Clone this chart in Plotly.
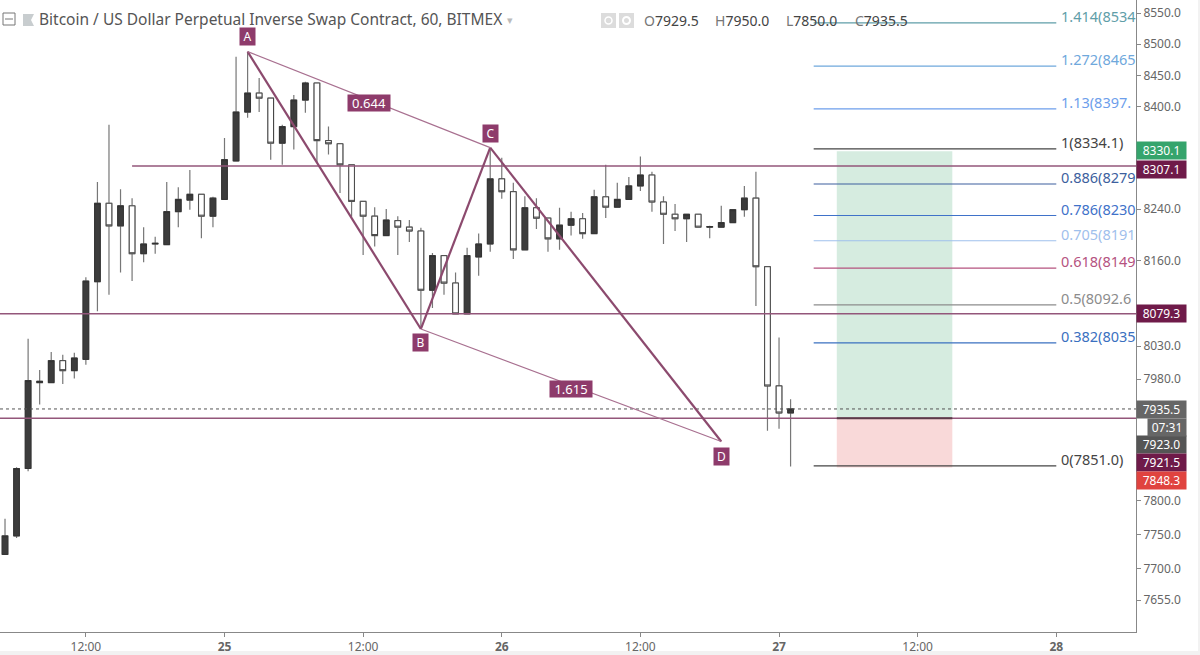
import math

import pandas as pd
import plotly.graph_objects as go

# hourly candles, first one is 2018-07-24 05:00
first_candle = "2018-07-24 05:00"
opens = [7721, 7748, 7847, 7975, 7975, 8008, 7993, 8010, 8128, 8249, 8214, 8245, 8171, 8186, 8185, 8236, 8254, 8263, 8229,
         8255, 8315, 8392, 8422, 8414, 8343, 8369, 8411, 8438, 8347, 8342, 8309, 8252, 8229, 8199, 8222, 8212, 8206, 8115,
         8168, 8126, 8079, 8166, 8186, 8287, 8267, 8177, 8242, 8226, 8194, 8215, 8225, 8202, 8259, 8243, 8255, 8276, 8293,
         8251, 8232, 8225, 8232, 8212, 8212, 8219, 8239, 8257, 8151, 7970, 7929.5]
highs = [7773, 7849, 8041, 7994, 8021, 8017, 8020, 8135, 8282, 8372, 8271, 8257, 8212, 8197, 8282, 8274, 8301, 8264, 8259,
         8351, 8480, 8488, 8446, 8414, 8372, 8419, 8440, 8438, 8369, 8342, 8309, 8252, 8243, 8240, 8229, 8223, 8211, 8172,
         8168, 8142, 8180, 8202, 8333, 8320, 8281, 8260, 8257, 8226, 8242, 8236, 8234, 8270, 8309, 8281, 8290, 8322, 8298,
         8260, 8248, 8232, 8232, 8214, 8245, 8239, 8276, 8298, 8151, 8043, 7950]
lows = [7720, 7745, 7843, 7942, 7974, 7973, 7981, 8002, 8083, 8108, 8142, 8129, 8158, 8171, 8185, 8212, 8239, 8195, 8212,
        8255, 8315, 8383, 8392, 8317, 8309, 8333, 8391, 8312, 8325, 8265, 8228, 8169, 8182, 8199, 8169, 8189, 8058, 8088,
        8108, 8079, 8079, 8137, 8174, 8256, 8163, 8177, 8209, 8174, 8177, 8199, 8194, 8202, 8226, 8243, 8255, 8268, 8236,
        8186, 8206, 8189, 8212, 8195, 8212, 8219, 8228, 8091, 7903, 7906, 7850]
closes = [7748, 7847, 7978, 7977, 8008, 7993, 8012, 8129, 8249, 8214, 8245, 8171, 8186, 8187, 8236, 8255, 8263, 8229, 8257,
          8317, 8392, 8422, 8414, 8343, 8369, 8411, 8438, 8347, 8342, 8309, 8252, 8229, 8199, 8223, 8212, 8206, 8115, 8168,
          8126, 8079, 8168, 8186, 8287, 8267, 8177, 8242, 8226, 8194, 8215, 8225, 8202, 8259, 8243, 8255, 8276, 8293, 8251,
          8232, 8225, 8232, 8212, 8213, 8219, 8239, 8257, 8151, 7970, 7929.5, 7935.5]

# harmonic pattern
pattern_names = ["A", "B", "C", "D"]
pattern_times = ["2018-07-25 02:00", "2018-07-25 17:00", "2018-07-25 23:00", "2018-07-26 19:00"]
pattern_prices = [8488, 8056, 8336, 7887]
ratio_labels = ["0.644", "1.615"]
ratio_times = ["2018-07-25 12:30", "2018-07-26 06:00"]
ratio_prices = [8407, 7965.5]

# horizontal levels
level_prices = [8307.1, 8079.3, 7921.5]
level_starts = ["2018-07-24 16:00", None, None]
last_price = 7935.5

# fibonacci
fib_labels = ["1.414(8534", "1.272(8465", "1.13(8397.", "1(8334.1)", "0.886(8279", "0.786(8230", "0.705(8191", "0.618(8149",
              "0.5(8092.6", "0.382(8035", "0(7851.0)"]
fib_prices = [8534, 8465, 8397, 8334.1, 8279, 8230, 8191, 8149, 8092.6, 8035, 7851]
fib_colors = ["#5f9ea8", "#6fa8dc", "#6d9eeb", "#444444", "#3d5f9e", "#3f72c9", "#9fc0ec", "#b5537f", "#8c8c8c", "#3a70c0", "#444444"]
fib_start = "2018-07-27 03:00"
fib_end = "2018-07-28 00:00"

# long position
position_start = "2018-07-27 05:00"
position_end = "2018-07-27 15:00"
position_target = 8330.1
position_entry = 7921.5
position_stop = 7848.3

# axes
x_range = ["2018-07-24 04:34", "2018-07-28 06:54"]
y_range = [7609, 8571]
x_ticks = ["2018-07-24 12:00", "2018-07-25 00:00", "2018-07-25 12:00", "2018-07-26 00:00", "2018-07-26 12:00",
           "2018-07-27 00:00", "2018-07-27 12:00", "2018-07-28 00:00"]
x_tick_labels = ["12:00", "<b>25</b>", "12:00", "<b>26</b>", "12:00", "<b>27</b>", "12:00", "<b>28</b>"]
y_ticks = [8550, 8500, 8450, 8400, 8240, 8160, 8030, 7980, 7800, 7750, 7700, 7655]

# price tags on the right scale
tag_texts = ["8330.1", "8307.1", "8079.3", "7935.5", "7923.0", "7921.5", "7848.3"]
tag_rows = [151, 169, 313, 409, 444, 462, 480]
tag_colors = ["#35a46c", "#6f1a49", "#6f1a49", "#666666", "#555555", "#6f1a49", "#e0433f"]

PLOT_W = 1136
PLOT_H = 632
PURPLE = "#8c4a6e"
FONT = "Noto Sans"


def px_x(x):
    return x / PLOT_W


def px_y(y):
    return 1 - y / PLOT_H


times = pd.date_range(first_candle, periods=len(opens), freq="h")
body_tops = [max(o, c) for o, c in zip(opens, closes)]
body_bottoms = [min(o, c) for o, c in zip(opens, closes)]

fig = go.Figure()

# position boxes go under everything
for top, bottom, color in [(position_target, position_entry, "#d6ece0"), (position_entry, position_stop, "#f9d9d9")]:
    fig.add_trace(go.Scatter(
        x=[position_start, position_end, position_end, position_start, position_start],
        y=[top, top, bottom, bottom, top],
        mode="lines", fill="toself", fillcolor=color, line=dict(width=0),
    ))

# wicks in grey, then the bodies again with a darker outline
fig.add_trace(go.Candlestick(
    x=times, open=opens, high=highs, low=lows, close=closes, whiskerwidth=0,
    increasing=dict(line=dict(color="#777777", width=1.2), fillcolor="#3c3c3c"),
    decreasing=dict(line=dict(color="#777777", width=1.2), fillcolor="#ffffff"),
))
fig.add_trace(go.Candlestick(
    x=times, open=opens, high=body_tops, low=body_bottoms, close=closes, whiskerwidth=0,
    increasing=dict(line=dict(color="#333333", width=1), fillcolor="#3c3c3c"),
    decreasing=dict(line=dict(color="#444444", width=1), fillcolor="#ffffff"),
))

# levels
for price, start in zip(level_prices, level_starts):
    fig.add_trace(go.Scatter(x=[start or x_range[0], x_range[1]], y=[price, price], mode="lines",
                             line=dict(color="#93567a", width=1.5)))
fig.add_trace(go.Scatter(x=x_range, y=[last_price, last_price], mode="lines",
                         line=dict(color="#555555", width=1, dash="dot")))
fig.add_trace(go.Scatter(x=[position_start, position_end], y=[position_entry, position_entry], mode="lines",
                         line=dict(color="#5a3a48", width=2)))

# fib lines
for price, color in zip(fib_prices, fib_colors):
    fig.add_trace(go.Scatter(x=[fib_start, fib_end], y=[price, price], mode="lines",
                             line=dict(color=color, width=1.2)))

# XABCD legs
for i, j, width, color in [(0, 1, 2.2, PURPLE), (1, 2, 2.2, PURPLE), (2, 3, 2.2, PURPLE), (0, 2, 1.2, "#a87090"), (1, 3, 1.2, "#a87090")]:
    fig.add_trace(go.Scatter(x=[pattern_times[i], pattern_times[j]], y=[pattern_prices[i], pattern_prices[j]],
                             mode="lines", line=dict(color=color, width=width)))

annotations = []

for name, t, price, shift in zip(pattern_names, pattern_times, pattern_prices, [15, -14, 14, -15]):
    annotations.append(dict(x=t, y=math.log10(price), yshift=shift, yanchor="middle", text=name, showarrow=False,
                            font=dict(family=FONT, size=12, color="#ffffff"), bgcolor="#8e3b6b",
                            width=15, height=17, borderpad=0))
for label, t, price in zip(ratio_labels, ratio_times, ratio_prices):
    annotations.append(dict(x=t, y=math.log10(price), yanchor="middle", text=label, showarrow=False,
                            font=dict(family=FONT, size=13, color="#ffffff"), bgcolor="#8e3b6b",
                            width=42, height=16, borderpad=0))

for label, price, color in zip(fib_labels, fib_prices, fib_colors):
    annotations.append(dict(x=fib_end, y=math.log10(price), xshift=3, yshift=7, xanchor="left", yanchor="middle",
                            text=label, showarrow=False, font=dict(family=FONT, size=14.5, color=color)))

for text, row, color in zip(tag_texts, tag_rows, tag_colors):
    annotations.append(dict(xref="paper", yref="paper", x=1, y=px_y(row), xanchor="left", yanchor="middle", text=text,
                            showarrow=False, font=dict(family=FONT, size=12, color="#ffffff"), bgcolor=color,
                            width=49, height=17, borderpad=0))
annotations.append(dict(xref="paper", yref="paper", x=px_x(1147), y=px_y(427), xanchor="left", yanchor="middle", text="07:31",
                        showarrow=False, font=dict(family=FONT, size=12, color="#ffffff"), bgcolor="#666666",
                        width=38, height=17, borderpad=0))

# header
annotations.append(dict(xref="paper", yref="paper", x=px_x(37), y=px_y(19), xanchor="left", yanchor="middle", showarrow=False,
                        text="Bitcoin / US Dollar Perpetual Inverse Swap Contract, 60, BITMEX",
                        font=dict(family=FONT, size=15.5, color="#555555")))
annotations.append(dict(xref="paper", yref="paper", x=px_x(505), y=px_y(19), xanchor="left", yanchor="middle", showarrow=False,
                        text="▾", font=dict(family=FONT, size=11, color="#bbbbbb")))
for x, letter, value in [(642, "O", "7929.5"), (713, "H", "7950.0"), (784, "L", "7850.0"), (853, "C", "7935.5")]:
    annotations.append(dict(xref="paper", yref="paper", x=px_x(x), y=px_y(21), xanchor="left", yanchor="middle", showarrow=False,
                            text=f"<span style='color:#777777'>{letter}</span>{value}",
                            font=dict(family=FONT, size=14, color="#444444")))

shapes = [
    # icons in the header
    dict(type="rect", xref="paper", yref="paper", x0=px_x(3), x1=px_x(15), y0=px_y(13), y1=px_y(25),
         line=dict(color="#777777", width=1), fillcolor="#ffffff"),
    dict(type="line", xref="paper", yref="paper", x0=px_x(5), x1=px_x(13), y0=px_y(19), y1=px_y(19),
         line=dict(color="#777777", width=1)),
    dict(type="path", xref="paper", yref="paper",
         path=f"M {px_x(23)} {px_y(14)} L {px_x(34)} {px_y(14)} L {px_x(31)} {px_y(20)} L {px_x(34)} {px_y(26)} L {px_x(23)} {px_y(26)} Z",
         line=dict(width=0), fillcolor="#c8cdcf"),
    dict(type="rect", xref="paper", yref="paper", x0=px_x(601), x1=px_x(616), y0=px_y(13), y1=px_y(28),
         line=dict(width=0), fillcolor="#dcdcdc"),
    dict(type="rect", xref="paper", yref="paper", x0=px_x(619), x1=px_x(634), y0=px_y(13), y1=px_y(28),
         line=dict(width=0), fillcolor="#dcdcdc"),
    dict(type="circle", xref="paper", yref="paper", x0=px_x(605), x1=px_x(612), y0=px_y(17), y1=px_y(24),
         line=dict(color="#ffffff", width=1.5)),
    dict(type="circle", xref="paper", yref="paper", x0=px_x(623), x1=px_x(630), y0=px_y(17), y1=px_y(24),
         line=dict(color="#ffffff", width=2)),
    # white gap left of the countdown
    dict(type="rect", xref="paper", yref="paper", x0=px_x(1137), x1=px_x(1147), y0=px_y(418), y1=px_y(436),
         line=dict(width=0), fillcolor="#ffffff"),
    # window edge
    dict(type="rect", xref="paper", yref="paper", x0=px_x(1198), x1=px_x(1200), y0=px_y(0), y1=px_y(655),
         line=dict(width=0), fillcolor="#f2f2f2"),
    dict(type="rect", xref="paper", yref="paper", x0=px_x(0), x1=px_x(1200), y0=px_y(651), y1=px_y(655),
         line=dict(width=0), fillcolor="#f2f2f2"),
]

fig.update_layout(
    width=1200,
    height=655,
    margin=dict(l=0, r=1200 - PLOT_W, t=0, b=655 - PLOT_H),
    paper_bgcolor="#ffffff",
    plot_bgcolor="#ffffff",
    showlegend=False,
    boxmode="overlay",
    boxgap=0.3,
    annotations=annotations,
    shapes=shapes,
    xaxis=dict(
        type="date", range=x_range, rangeslider=dict(visible=False), showgrid=False, zeroline=False,
        tickmode="array", tickvals=x_ticks, ticktext=x_tick_labels,
        ticks="outside", ticklen=4, tickcolor="#888888", showline=True, linecolor="#888888", linewidth=1,
        tickfont=dict(family=FONT, size=12, color="#666666"),
    ),
    yaxis=dict(
        type="log", side="right", range=[math.log10(y_range[0]), math.log10(y_range[1])], showgrid=False, zeroline=False,
        tickmode="array", tickvals=y_ticks, ticktext=[f"{v:.1f}" for v in y_ticks],
        ticks="outside", ticklen=4, tickcolor="#888888", showline=True, linecolor="#888888", linewidth=1,
        tickfont=dict(family=FONT, size=12, color="#666666"),
    ),
)

fig.write_html("out.html", config=dict(displayModeBar=False),
               post_script="document.body.style.margin='0';document.body.style.overflow='hidden';")
